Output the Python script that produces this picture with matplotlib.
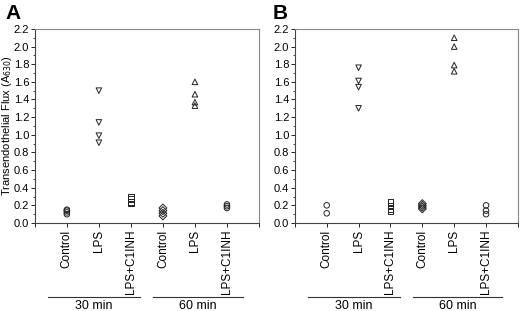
import matplotlib.pyplot as plt
from matplotlib.ticker import MultipleLocator

plt.rcParams['font.family'] = ['Liberation Sans', 'DejaVu Sans']

categories = ['Control', 'LPS', 'LPS+C1INH', 'Control', 'LPS', 'LPS+C1INH']
groups = ['30 min', '60 min']
markers = ['o', 'v', 's', 'D', '^', 'o']

# flux values per category, panel A and panel B
panel_a = [
    [0.10, 0.12, 0.14, 0.15],
    [1.50, 1.14, 0.99, 0.91],
    [0.30, 0.27, 0.24, 0.22],
    [0.08, 0.11, 0.14, 0.17],
    [1.60, 1.46, 1.37, 1.33],
    [0.17, 0.19, 0.21],
]
panel_b = [
    [0.20, 0.11],
    [1.76, 1.61, 1.54, 1.30],
    [0.24, 0.20, 0.16, 0.13],
    [0.22, 0.20, 0.18, 0.16],
    [2.10, 2.00, 1.79, 1.72],
    [0.20, 0.14, 0.10],
]

fig = plt.figure(figsize=(5.2, 3.11), dpi=100)
ax_a = fig.add_axes([0.067, 0.283, 0.431, 0.624])
ax_b = fig.add_axes([0.567, 0.283, 0.429, 0.624])

for ax, data, letter, lx in [(ax_a, panel_a, 'A', 5), (ax_b, panel_b, 'B', 273)]:
    for i, (vals, m) in enumerate(zip(data, markers)):
        ax.scatter([i + 1] * len(vals), vals, marker=m, s=16, facecolors='none',
                   edgecolors='#222222', linewidths=0.7, zorder=3)
    ax.set_xlim(0, 7)
    ax.set_ylim(0, 2.2)
    ax.yaxis.set_major_locator(MultipleLocator(0.2))
    ax.yaxis.set_minor_locator(MultipleLocator(0.1))
    ax.yaxis.set_major_formatter(plt.FormatStrFormatter('%.1f'))
    ax.set_xticks(range(0, 8))
    ax.set_xticklabels([''] + categories + [''], rotation=90, fontsize=8.5)
    ax.tick_params(axis='y', labelsize=8, length=3, width=0.6, pad=1)
    ax.tick_params(axis='y', which='minor', length=1.5, width=0.5)
    ax.tick_params(axis='x', length=3, width=0.6, pad=2)
    for s in ['top', 'right']:
        ax.spines[s].set_color('#888888')
        ax.spines[s].set_linewidth(0.8)
    for s in ['left', 'bottom']:
        ax.spines[s].set_color('#444444')
        ax.spines[s].set_linewidth(0.8)

    # group brackets under the tick labels
    trans = ax.get_xaxis_transform()
    for (x0, x1), g in zip([(0.4, 3.3), (3.7, 6.5)], groups):
        ax.plot([x0, x1], [-0.382, -0.382], color='#333333', lw=0.8,
                transform=trans, clip_on=False)
        ax.text((x0 + x1) / 2, -0.395, g, transform=trans, ha='center',
                va='top', fontsize=9)

    fig.text(lx / 520, 1 - 4 / 311, letter, fontsize=15, fontweight='bold',
             ha='left', va='top')

ax_a.set_ylabel('Transendothelial Flux (A$_{630}$)', fontsize=8)
ax_a.yaxis.set_label_coords(-0.093, 0.5)

plt.savefig('out.png', dpi=100)
